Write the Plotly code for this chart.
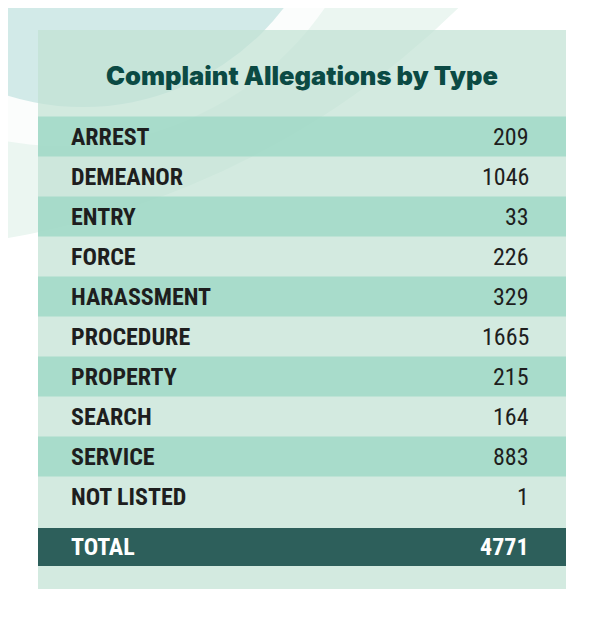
import plotly.graph_objects as go

# ---- data ----
categories = ["ARREST", "DEMEANOR", "ENTRY", "FORCE", "HARASSMENT",
              "PROCEDURE", "PROPERTY", "SEARCH", "SERVICE", "NOT LISTED"]
counts = [209, 1046, 33, 226, 329, 1665, 215, 164, 883, 1]
total_label = "TOTAL"
total_value = 4771
title_text = "Complaint Allegations by Type"

# ---- layout geometry (pixel-mapped axes; page has an 8px body margin) ----
W, H = 600, 620
OFF = 8
PANEL_L, PANEL_R, PANEL_T, PANEL_B = 38, 566, 30, 589
ROW0, PITCH = 136.5, 40
TOTAL_Y, TOTAL_H = 547, 38
LABEL_X, VALUE_X = 69, 531

LABEL_FONT = "Liberation Sans Narrow, Roboto Condensed, DejaVu Sans Condensed, sans-serif"
TEXT_DARK = "#1e1e1e"
FS = 24

row_y = [ROW0 + PITCH * i for i in range(len(categories))]
stripe_y = [y for i, y in enumerate(row_y) if i % 2 == 0]

fig = go.Figure()

# striped rows
fig.add_trace(go.Bar(
    orientation="h", y=stripe_y, x=[PANEL_R - PANEL_L] * len(stripe_y),
    base=PANEL_L, width=PITCH, marker=dict(color="rgba(158,216,198,0.8)", line=dict(width=0)),
    hoverinfo="skip", showlegend=False))
# total row
fig.add_trace(go.Bar(
    orientation="h", y=[TOTAL_Y], x=[PANEL_R - PANEL_L], base=PANEL_L, width=TOTAL_H,
    marker=dict(color="#2d5f5b", line=dict(width=0)), hoverinfo="skip", showlegend=False))

annotations = []
for cat, val, y in zip(categories, counts, row_y):
    annotations.append(dict(x=LABEL_X, y=y, text=f"<b>{cat}</b>", xanchor="left", yanchor="middle",
                            showarrow=False, font=dict(family=LABEL_FONT, size=FS, color=TEXT_DARK)))
    annotations.append(dict(x=VALUE_X, y=y, text=str(val), xanchor="right", yanchor="middle",
                            showarrow=False, font=dict(family=LABEL_FONT, size=FS, color=TEXT_DARK)))
annotations.append(dict(x=LABEL_X, y=TOTAL_Y, text=f"<b>{total_label}</b>", xanchor="left", yanchor="middle",
                        showarrow=False, font=dict(family=LABEL_FONT, size=FS, color="white")))
annotations.append(dict(x=VALUE_X, y=TOTAL_Y, text=f"<b>{total_value}</b>", xanchor="right", yanchor="middle",
                        showarrow=False, font=dict(family=LABEL_FONT, size=FS, color="white")))
annotations.append(dict(x=(PANEL_L + PANEL_R) / 2, y=75, text=title_text, xanchor="center", yanchor="middle",
                        showarrow=False, font=dict(family="Inter, Lato, sans-serif", size=25.5,
                                                   weight=900, color="#0b4a44")))


def circle(cx, cy, r, color):
    return dict(type="circle", layer="below", x0=cx - r, x1=cx + r, y0=cy - r, y1=cy + r,
                fillcolor=color, line=dict(width=0))


# decorative background arcs and panel
shapes = [
    circle(-134, -596, 846, "#ebf6f1"),
    circle(61, -175, 321, "#fbfdfc"),
    circle(83, -146, 253, "#d2eae8"),
    dict(type="rect", layer="below", x0=PANEL_L, x1=PANEL_R, y0=PANEL_T, y1=PANEL_B,
         fillcolor="rgba(192,225,211,0.7)", line=dict(width=0)),
]

fig.update_layout(
    width=W, height=H, margin=dict(l=0, r=0, t=0, b=0),
    paper_bgcolor="white", plot_bgcolor="white",
    xaxis=dict(range=[OFF, W + OFF], visible=False, fixedrange=True),
    yaxis=dict(range=[H + OFF, OFF], visible=False, fixedrange=True),
    shapes=shapes, annotations=annotations, showlegend=False, barmode="overlay",
)

fig.write_html("out.html")
